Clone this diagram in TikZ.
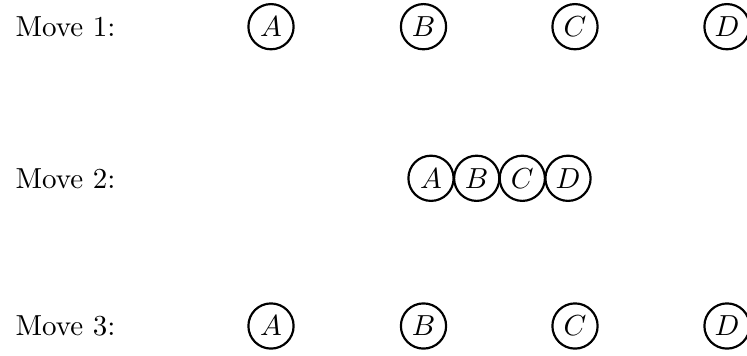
\documentclass[tikz,border=0pt]{standalone}
\begin{document}
\begin{tikzpicture}[x=0.345pt,y=-0.345pt,
  ball/.style={circle,draw,line width=0.75pt,minimum size=15.6pt,inner sep=0pt},
  lbl/.style={anchor=west,inner sep=0pt}]
\useasboundingbox (0,0) rectangle (747,356);
% row 1
\node[lbl] (m1) at (15,26.7) {Move 1:};
\node[ball] (a1) at (271,26.7) {$A$};
\node[ball] (b1) at (423.5,26.7) {$B$};
\node[ball] (c1) at (575,26.7) {$C$};
\node[ball] (d1) at (727,26.7) {$D$};
% row 2
\node[lbl] (m2) at (15,178.3) {Move 2:};
\node[ball] (a2) at (431,178.3) {$A$};
\node[ball] (b2) at (476.7,178.3) {$B$};
\node[ball] (c2) at (522.3,178.3) {$C$};
\node[ball] (d2) at (568,178.3) {$D$};
% row 3
\node[lbl] (m3) at (15,326) {Move 3:};
\node[ball] (a3) at (271,326) {$A$};
\node[ball] (b3) at (423.5,326) {$B$};
\node[ball] (c3) at (575,326) {$C$};
\node[ball] (d3) at (727,326) {$D$};
\end{tikzpicture}
\end{document}
